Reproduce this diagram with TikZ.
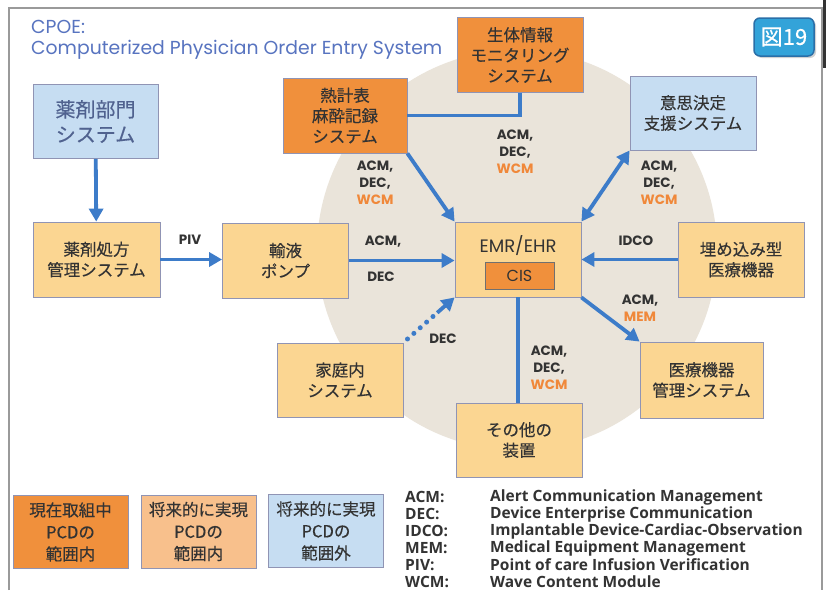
\documentclass[tikz,border=0pt]{standalone}
\usepackage{fontspec}
\setmainfont[FakeBold=0.35]{Noto Sans CJK JP}
\newfontfamily\geo{Poppins}
\newfontfamily\hum{Open Sans}
\usetikzlibrary{arrows.meta,shadows}

\definecolor{frameline}{HTML}{9A9A9A}
\definecolor{disc}{HTML}{EAE4DA}
\definecolor{flow}{HTML}{3D7CC9}
\definecolor{deeporange}{HTML}{F0903C}
\definecolor{paleorange}{HTML}{FBD692}
\definecolor{salmon}{HTML}{F8C08C}
\definecolor{paleblue}{HTML}{C6DDF2}
\definecolor{boxline}{HTML}{9094B4}
\definecolor{ink}{HTML}{333333}
\definecolor{wcm}{HTML}{F0883A}
\definecolor{titleblue}{HTML}{5874C0}
\definecolor{slate}{HTML}{50628F}
\definecolor{badgefill}{HTML}{33A3D9}
\definecolor{badgeline}{HTML}{2A6FA8}

\tikzset{
  sysbox/.style={draw=boxline, line width=0.8pt, align=center, inner sep=0pt,
    text=ink, font=\fontsize{16.5}{20.5}\selectfont,
    minimum width=126pt, minimum height=75pt},
  nowbox/.style={sysbox, fill=deeporange},
  futbox/.style={sysbox, fill=paleorange},
  extbox/.style={sysbox, fill=paleblue},
  keybox/.style={draw=boxline, line width=0.8pt, align=center, inner sep=0pt,
    text=ink, font=\fontsize{16.5}{22}\selectfont,
    minimum width=115pt, minimum height=73pt},
  flowline/.style={draw=flow, line width=3.8pt},
  tip/.style={-{Triangle[length=13pt,width=14pt]}},
  arr/.style={flowline, tip},
  darr/.style={flowline, {Triangle[length=13pt,width=14pt]}-{Triangle[length=13pt,width=14pt]}},
  dots/.style={draw=flow, line width=5pt, line cap=round, dash pattern=on 0pt off 8.5pt},
  proto/.style={align=center, text=ink, inner sep=0pt,
    font=\geo\bfseries\fontsize{13.5}{17}\selectfont},
  abbr/.style={anchor=west, inner sep=0pt, text=ink,
    font=\hum\bfseries\fontsize{15.5}{17}\selectfont},
}

\begin{document}
\begin{tikzpicture}[x=1pt, y=-1pt]
  % page
  \fill[white] (0,0) rectangle (832,590);
  \useasboundingbox (0,0) rectangle (832,590);

  % outer frame, open at the bottom
  \draw[frameline, line width=1.2pt] (9,590) -- (9,8) -- (822,8) -- (822,590);
  \fill[black!80] (823,0) rectangle (826,68);

  % title
  \node[anchor=base west, inner sep=0pt, text=titleblue,
        font=\geo\fontsize{18.8}{20}\selectfont] (t1) at (31,33) {CPOE:};
  \node[anchor=base west, inner sep=0pt, text=titleblue,
        font=\geo\fontsize{18.8}{20}\selectfont] (t2) at (31,54.5)
        {Computerized Physician Order Entry System};

  % figure badge
  \node[draw=badgeline, fill=badgefill, line width=1.5pt, rounded corners=6pt,
        minimum width=60pt, minimum height=38pt, inner sep=0pt,
        drop shadow={shadow xshift=2pt, shadow yshift=-2pt, opacity=0.35},
        text=white, font=\fontsize{22}{24}\selectfont] (badge) at (784,37) {図19};

  % the CPOE domain
  \fill[disc] (517,250) circle (200);

  % systems
  \node[extbox, minimum width=125pt, minimum height=74pt, text=slate,
        font=\fontsize{20}{25}\selectfont] (pharm) at (95.5,121.5) {薬剤部門\\システム};
  \node[futbox, minimum width=127pt] (rx) at (96.5,259.5) {薬剤処方\\管理システム};
  \node[futbox] (pump) at (285.5,260.5) {輸液\\ポンプ};
  \node[futbox] (emr) at (518,259.5) {};
  \node[inner sep=0pt, text=ink, font=\geo\fontsize{18}{20}\selectfont] (emrlbl)
        at (518,246) {EMR/EHR};
  \node[draw=ink!70, fill=deeporange, line width=0.8pt, minimum width=69pt,
        minimum height=27pt, inner sep=0pt, text=ink,
        font=\geo\fontsize{16}{18}\selectfont] (cis) at (519.5,275.5) {CIS};
  \node[nowbox, minimum width=124pt] (anes) at (345,115.5) {熱計表\\麻酔記録\\システム};
  \node[nowbox] (vital) at (520,55) {生体情報\\モニタリング\\システム};
  \node[extbox, minimum height=74pt] (dss) at (693,113) {意思決定\\支援システム};
  \node[futbox] (impl) at (741,259.5) {埋め込み型\\医療機器};
  \node[futbox, minimum width=123pt, minimum height=76pt] (mdm) at (701.5,380)
        {医療機器\\管理システム};
  \node[futbox, minimum height=74pt] (other) at (519,440) {その他の\\装置};
  \node[futbox, minimum height=74pt] (home) at (340,380) {家庭内\\システム};

  % connections
  \draw[arr] (pharm) -- (rx);
  \draw[arr] (rx.east) -- (rx.east -| pump.west);
  \draw[arr] (pump.east) -- (pump.east -| emr.west);
  \draw[arr] (anes.south east) -- (emr.north west);
  \draw[flowline] (vital.south) |- (anes.east);
  \draw[darr] (dss.south west) -- (emr.north east);
  \draw[arr] (impl.west) -- (impl.west -| emr.east);
  \draw[arr] (emr.south east) -- (mdm.north west);
  \draw[flowline] (emr.south) -- (emr.south |- other.north);
  % planned link: dotted run ending in a solid head
  \path (home.north east) -- (emr.south west) coordinate[pos=0.08] (hs)
        coordinate[pos=0.66] (hm);
  \draw[dots] (hs) -- (hm);
  \draw[arr] (hm) -- (emr.south west);

  % protocol labels
  \node[proto] (lpiv) at (190,240) {PIV};
  \node[proto] (lpump1) at (383,242) {ACM,};
  \node[proto] (lpump2) at (381,277) {DEC};
  \node[proto] (lanes) at (375,183) {ACM,\\DEC,\\\textcolor{wcm}{WCM}};
  \node[proto] (lvital) at (515,152) {ACM,\\DEC,\\\textcolor{wcm}{WCM}};
  \node[proto] (ldss) at (659,183) {ACM,\\DEC,\\\textcolor{wcm}{WCM}};
  \node[proto] (limpl) at (636,241) {IDCO};
  \node[proto] (lmdm) at (640,308) {ACM,\\\textcolor{wcm}{MEM}};
  \node[proto] (lother) at (549,368) {ACM,\\DEC,\\\textcolor{wcm}{WCM}};
  \node[proto] (lhome) at (443,339) {DEC};

  % legend
  \node[keybox, fill=deeporange] (k1) at (70.5,532) {現在取組中\\PCDの\\範囲内};
  \node[keybox, fill=salmon] (k2) at (198.5,531.5) {将来的に実現\\PCDの\\範囲内};
  \node[keybox, fill=paleblue] (k3) at (326,531) {将来的に実現\\PCDの\\範囲外};

  % abbreviations
  \node[abbr] (a1) at (405,497) {ACM:};
  \node[abbr] (a2) at (405,514) {DEC:};
  \node[abbr] (a3) at (405,531) {IDCO:};
  \node[abbr] (a4) at (405,548) {MEM:};
  \node[abbr] (a5) at (405,565) {PIV:};
  \node[abbr] (a6) at (405,582) {WCM:};
  \node[abbr] (d1) at (490,497) {Alert Communication Management};
  \node[abbr] (d2) at (490,514) {Device Enterprise Communication};
  \node[abbr] (d3) at (490,531) {Implantable Device-Cardiac-Observation};
  \node[abbr] (d4) at (490,548) {Medical Equipment Management};
  \node[abbr] (d5) at (490,565) {Point of care Infusion Verification};
  \node[abbr] (d6) at (490,582) {Wave Content Module};
\end{tikzpicture}
\end{document}
